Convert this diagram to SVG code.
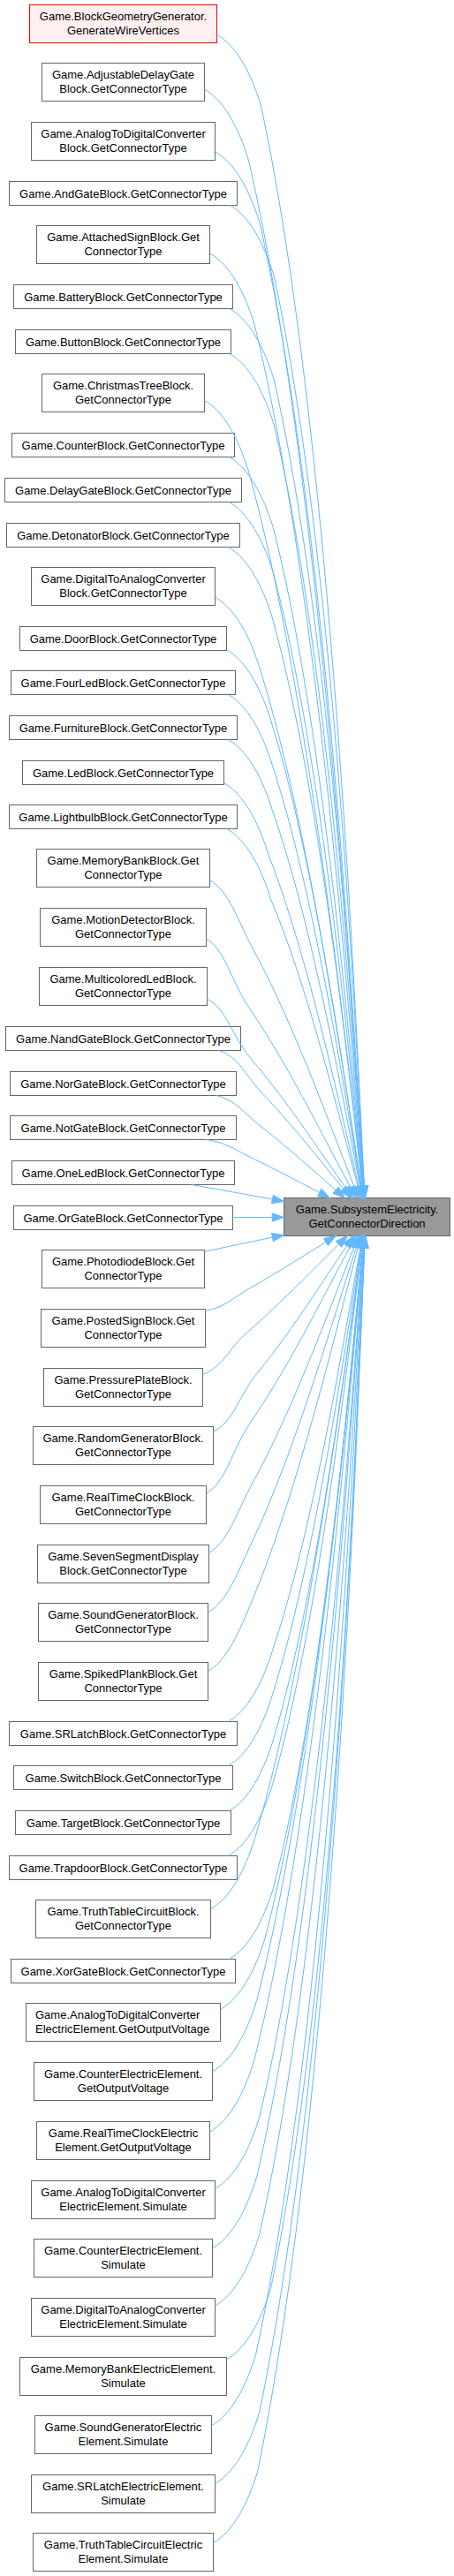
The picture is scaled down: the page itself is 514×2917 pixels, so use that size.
<svg xmlns="http://www.w3.org/2000/svg" width="514" height="2917" viewBox="0 0 514 2917">
<style>
.n rect{fill:#ffffff;stroke:#666666;stroke-width:1}
.n.trunc rect{fill:#fff0f0;stroke:#ff0000}
.n.target rect{fill:#999999;stroke:#666666}
text{font-family:"Liberation Sans",Arial,Helvetica,sans-serif;font-size:13px;fill:#000000;text-anchor:middle}
text.l{text-anchor:start}
#edges path{fill:none;stroke:#63b8ff;stroke-width:1;marker-end:url(#ah)}
</style>
<defs>
<marker id="ah" markerUnits="userSpaceOnUse" markerWidth="14" markerHeight="10" refX="13.3" refY="4.67" orient="auto" overflow="visible">
<path d="M0,0 L13.3,4.67 L0,9.34 Z" fill="#63b8ff" stroke="#63b8ff" stroke-width="1"/>
</marker>
</defs>
<rect x="0" y="0" width="514" height="2917" fill="#ffffff"/>
<g id="nodes">
<g id="node1" class="n trunc"><rect x="33.5" y="5.5" width="212" height="43"/><text x="139.5" y="23.3">Game.BlockGeometryGenerator.</text><text x="139.5" y="39.3">GenerateWireVertices</text></g>
<g id="node2" class="n"><rect x="47.5" y="71.5" width="184" height="43"/><text x="139.5" y="89.3">Game.AdjustableDelayGate</text><text x="139.5" y="105.3">Block.GetConnectorType</text></g>
<g id="node3" class="n"><rect x="35.5" y="138.5" width="208" height="43"/><text x="139.5" y="156.3">Game.AnalogToDigitalConverter</text><text x="139.5" y="172.3">Block.GetConnectorType</text></g>
<g id="node4" class="n"><rect x="10.5" y="205.5" width="258" height="27"/><text x="139.5" y="223.8">Game.AndGateBlock.GetConnectorType</text></g>
<g id="node5" class="n"><rect x="41.5" y="255.5" width="196" height="43"/><text x="139.5" y="273.3">Game.AttachedSignBlock.Get</text><text x="139.5" y="289.3">ConnectorType</text></g>
<g id="node6" class="n"><rect x="15.5" y="322.5" width="248" height="27"/><text x="139.5" y="340.8">Game.BatteryBlock.GetConnectorType</text></g>
<g id="node7" class="n"><rect x="17.5" y="373.5" width="244" height="27"/><text x="139.5" y="391.8">Game.ButtonBlock.GetConnectorType</text></g>
<g id="node8" class="n"><rect x="47.5" y="423.5" width="184" height="43"/><text x="139.5" y="441.3">Game.ChristmasTreeBlock.</text><text x="139.5" y="457.3">GetConnectorType</text></g>
<g id="node9" class="n"><rect x="13.5" y="490.5" width="252" height="27"/><text x="139.5" y="508.8">Game.CounterBlock.GetConnectorType</text></g>
<g id="node10" class="n"><rect x="5.5" y="541.5" width="268" height="27"/><text x="139.5" y="559.8">Game.DelayGateBlock.GetConnectorType</text></g>
<g id="node11" class="n"><rect x="7.5" y="592.5" width="264" height="27"/><text x="139.5" y="610.8">Game.DetonatorBlock.GetConnectorType</text></g>
<g id="node12" class="n"><rect x="35.5" y="642.5" width="208" height="43"/><text x="139.5" y="660.3">Game.DigitalToAnalogConverter</text><text x="139.5" y="676.3">Block.GetConnectorType</text></g>
<g id="node13" class="n"><rect x="22.5" y="709.5" width="234" height="27"/><text x="139.5" y="727.8">Game.DoorBlock.GetConnectorType</text></g>
<g id="node14" class="n"><rect x="12.5" y="759.5" width="254" height="27"/><text x="139.5" y="777.8">Game.FourLedBlock.GetConnectorType</text></g>
<g id="node15" class="n"><rect x="10.5" y="810.5" width="258" height="27"/><text x="139.5" y="828.8">Game.FurnitureBlock.GetConnectorType</text></g>
<g id="node16" class="n"><rect x="25.5" y="861.5" width="228" height="27"/><text x="139.5" y="879.8">Game.LedBlock.GetConnectorType</text></g>
<g id="node17" class="n"><rect x="10.5" y="911.5" width="258" height="27"/><text x="139.5" y="929.8">Game.LightbulbBlock.GetConnectorType</text></g>
<g id="node18" class="n"><rect x="41.5" y="961.5" width="196" height="43"/><text x="139.5" y="979.3">Game.MemoryBankBlock.Get</text><text x="139.5" y="995.3">ConnectorType</text></g>
<g id="node19" class="n"><rect x="45.5" y="1028.5" width="188" height="43"/><text x="139.5" y="1046.3">Game.MotionDetectorBlock.</text><text x="139.5" y="1062.3">GetConnectorType</text></g>
<g id="node20" class="n"><rect x="44.5" y="1095.5" width="190" height="43"/><text x="139.5" y="1113.3">Game.MulticoloredLedBlock.</text><text x="139.5" y="1129.3">GetConnectorType</text></g>
<g id="node21" class="n"><rect x="6.5" y="1162.5" width="266" height="27"/><text x="139.5" y="1180.8">Game.NandGateBlock.GetConnectorType</text></g>
<g id="node22" class="n"><rect x="11.5" y="1213.5" width="256" height="27"/><text x="139.5" y="1231.8">Game.NorGateBlock.GetConnectorType</text></g>
<g id="node23" class="n"><rect x="11.5" y="1263.5" width="256" height="27"/><text x="139.5" y="1281.8">Game.NotGateBlock.GetConnectorType</text></g>
<g id="node24" class="n"><rect x="13.5" y="1314.5" width="252" height="27"/><text x="139.5" y="1332.8">Game.OneLedBlock.GetConnectorType</text></g>
<g id="node25" class="n"><rect x="15.5" y="1365.5" width="248" height="27"/><text x="139.5" y="1383.8">Game.OrGateBlock.GetConnectorType</text></g>
<g id="node26" class="n"><rect x="47.5" y="1415.5" width="184" height="43"/><text x="139.5" y="1433.3">Game.PhotodiodeBlock.Get</text><text x="139.5" y="1449.3">ConnectorType</text></g>
<g id="node27" class="n"><rect x="46.5" y="1482.5" width="186" height="43"/><text x="139.5" y="1500.3">Game.PostedSignBlock.Get</text><text x="139.5" y="1516.3">ConnectorType</text></g>
<g id="node28" class="n"><rect x="49.5" y="1549.5" width="180" height="43"/><text x="139.5" y="1567.3">Game.PressurePlateBlock.</text><text x="139.5" y="1583.3">GetConnectorType</text></g>
<g id="node29" class="n"><rect x="37.5" y="1615.5" width="204" height="43"/><text x="139.5" y="1633.3">Game.RandomGeneratorBlock.</text><text x="139.5" y="1649.3">GetConnectorType</text></g>
<g id="node30" class="n"><rect x="45.5" y="1682.5" width="188" height="43"/><text x="139.5" y="1700.3">Game.RealTimeClockBlock.</text><text x="139.5" y="1716.3">GetConnectorType</text></g>
<g id="node31" class="n"><rect x="42.5" y="1749.5" width="194" height="43"/><text x="139.5" y="1767.3">Game.SevenSegmentDisplay</text><text x="139.5" y="1783.3">Block.GetConnectorType</text></g>
<g id="node32" class="n"><rect x="43.5" y="1815.5" width="192" height="43"/><text x="139.5" y="1833.3">Game.SoundGeneratorBlock.</text><text x="139.5" y="1849.3">GetConnectorType</text></g>
<g id="node33" class="n"><rect x="43.5" y="1882.5" width="192" height="43"/><text x="139.5" y="1900.3">Game.SpikedPlankBlock.Get</text><text x="139.5" y="1916.3">ConnectorType</text></g>
<g id="node34" class="n"><rect x="10.5" y="1949.5" width="258" height="27"/><text x="139.5" y="1967.8">Game.SRLatchBlock.GetConnectorType</text></g>
<g id="node35" class="n"><rect x="15.5" y="1999.5" width="248" height="27"/><text x="139.5" y="2017.8">Game.SwitchBlock.GetConnectorType</text></g>
<g id="node36" class="n"><rect x="17.5" y="2050.5" width="244" height="27"/><text x="139.5" y="2068.8">Game.TargetBlock.GetConnectorType</text></g>
<g id="node37" class="n"><rect x="10.5" y="2101.5" width="258" height="27"/><text x="139.5" y="2119.8">Game.TrapdoorBlock.GetConnectorType</text></g>
<g id="node38" class="n"><rect x="40.5" y="2151.5" width="198" height="43"/><text x="139.5" y="2169.3">Game.TruthTableCircuitBlock.</text><text x="139.5" y="2185.3">GetConnectorType</text></g>
<g id="node39" class="n"><rect x="12.5" y="2218.5" width="254" height="27"/><text x="139.5" y="2236.8">Game.XorGateBlock.GetConnectorType</text></g>
<g id="node40" class="n"><rect x="29.5" y="2268.5" width="220" height="43"/><text class="l" x="40" y="2286.3">Game.AnalogToDigitalConverter</text><text class="l" x="40" y="2302.3">ElectricElement.GetOutputVoltage</text></g>
<g id="node41" class="n"><rect x="38.5" y="2335.5" width="202" height="43"/><text x="139.5" y="2353.3">Game.CounterElectricElement.</text><text x="139.5" y="2369.3">GetOutputVoltage</text></g>
<g id="node42" class="n"><rect x="41.5" y="2402.5" width="196" height="43"/><text x="139.5" y="2420.3">Game.RealTimeClockElectric</text><text x="139.5" y="2436.3">Element.GetOutputVoltage</text></g>
<g id="node43" class="n"><rect x="35.5" y="2469.5" width="208" height="43"/><text x="139.5" y="2487.3">Game.AnalogToDigitalConverter</text><text x="139.5" y="2503.3">ElectricElement.Simulate</text></g>
<g id="node44" class="n"><rect x="38.5" y="2535.5" width="202" height="43"/><text x="139.5" y="2553.3">Game.CounterElectricElement.</text><text x="139.5" y="2569.3">Simulate</text></g>
<g id="node45" class="n"><rect x="35.5" y="2602.5" width="208" height="43"/><text x="139.5" y="2620.3">Game.DigitalToAnalogConverter</text><text x="139.5" y="2636.3">ElectricElement.Simulate</text></g>
<g id="node46" class="n"><rect x="22.5" y="2669.5" width="234" height="43"/><text x="139.5" y="2687.3">Game.MemoryBankElectricElement.</text><text x="139.5" y="2703.3">Simulate</text></g>
<g id="node47" class="n"><rect x="39.5" y="2735.5" width="200" height="43"/><text x="139.5" y="2753.3">Game.SoundGeneratorElectric</text><text x="139.5" y="2769.3">Element.Simulate</text></g>
<g id="node48" class="n"><rect x="35.5" y="2802.5" width="208" height="43"/><text x="139.5" y="2820.3">Game.SRLatchElectricElement.</text><text x="139.5" y="2836.3">Simulate</text></g>
<g id="node49" class="n"><rect x="37.5" y="2868.5" width="204" height="43"/><text x="139.5" y="2886.3">Game.TruthTableCircuitElectric</text><text x="139.5" y="2902.3">Element.Simulate</text></g>
<g id="target" class="n target"><rect x="321.5" y="1356.5" width="188" height="43"/><text x="415.5" y="1374.3">Game.SubsystemElectricity.</text><text x="415.5" y="1390.3">GetConnectorDirection</text></g>
</g>
<g id="edges">
<path d="M245.3,39 C267.3,51 284.3,83 295.3,119 C384.2,531.5 407.7,1296.5 413.4,1356.5"/>
<path d="M231.3,101 C253.3,113 270.3,145 281.3,181 C372.2,572.8 406.4,1296.5 413.1,1356.5"/>
<path d="M244,172.3 C266,184.3 283,216.3 294,252.3 C377.9,620.4 406.7,1296.5 413.2,1356.5"/>
<path d="M260,232 C282,244 299,276 310,312 C386.3,660.2 407.5,1296.5 413.4,1356.5"/>
<path d="M238,287.3 C260,299.3 277,331.3 288,367.3 C369.2,697 405.2,1296.5 412.8,1356.5"/>
<path d="M260,349.5 C282,361.5 299,393.5 310,429.5 C381.5,738.5 406.4,1296.5 413.1,1356.5"/>
<path d="M260,400.5 C282,412.5 299,444.5 310,480.5 C379.3,772.5 405.9,1296.5 413,1356.5"/>
<path d="M231.3,453.3 C253.3,465.3 270.3,497.3 281.3,533.3 C357.8,807.7 402.6,1296.5 412.1,1356.5"/>
<path d="M259.3,517.5 C281.3,529.5 298.3,561.5 309.3,597.5 C374.1,850.5 404.4,1296.5 412.6,1356.5"/>
<path d="M259.3,568.5 C281.3,580.5 298.3,612.5 309.3,648.5 C372,884.5 403.7,1296.5 412.4,1356.5"/>
<path d="M258.3,619.5 C280.3,631.5 297.3,663.5 308.3,699.5 C369.2,918.5 402.6,1296.5 412.1,1356.5"/>
<path d="M244,676.7 C266,688.7 283,720.7 294,756.7 C357.1,956.6 399.8,1297.6 411.3,1356.5"/>
<path d="M256.7,736 C278.7,748 295.7,780 306.7,816 C363.2,996.2 399.9,1297.6 411.3,1356.5"/>
<path d="M258.3,786.5 C280.3,798.5 297.3,830.5 308.3,866.5 C362.1,1029.8 398.7,1297.8 411,1356.5"/>
<path d="M258.3,837.5 C280.3,849.5 297.3,881.5 308.3,917.5 C360,1063.8 396.9,1298.1 410.5,1356.5"/>
<path d="M253.5,886.7 C275.5,898.7 292.5,930.7 303.5,966.7 C354.5,1096.6 393.8,1298.6 409.6,1356.5"/>
<path d="M256.7,938.5 C278.7,950.5 295.7,982.5 306.7,1018.5 C354.3,1131.2 391.6,1299.1 409,1356.5"/>
<path d="M237.5,996.7 C259.5,1008.7 269.5,1043.6 287.5,1076.7 C338.3,1170 382.9,1301.3 406.4,1356.5"/>
<path d="M233,1062.7 C255,1074.7 261.7,1111.6 283,1142.7 C331.7,1214 374,1304.2 403.4,1356.5"/>
<path d="M234,1131 C256.5,1141.2 262.1,1173.1 284,1198.7 C328.9,1251.3 368.6,1314.1 399.7,1356.5"/>
<path d="M248.3,1189.5 C270.8,1197 278.6,1219.3 298.3,1239.6 C336,1278.6 372.1,1326.7 397.3,1356.5"/>
<path d="M245,1240.5 C267.5,1245.7 275.7,1260.4 295,1275.3 C330,1302.4 369.7,1338.9 390.3,1356.5"/>
<path d="M233.3,1290.5 C255.8,1293.5 263.9,1300.9 283.3,1310.3 C315.2,1325.7 359.8,1349.5 373.5,1356.5"/>
<path d="M216.7,1341.5 C251,1347.5 287,1354 321.5,1360.5"/>
<path d="M263.5,1378.5 L321.5,1378.5"/>
<path d="M231.5,1417.3 C261,1411 291,1404.7 321.5,1398.5"/>
<path d="M232.5,1484.3 C255,1480.5 263,1469.9 282.5,1458.9 C317.5,1439.1 363.3,1409.8 380.2,1399.5"/>
<path d="M229.5,1556 C252,1549 258.8,1526.9 279.5,1509 C321.8,1472.5 366.9,1424.8 393.2,1399.5"/>
<path d="M241.5,1621 C264,1611 270.4,1580.2 291.5,1554.5 C334,1502.8 370.7,1441.8 400.4,1399.5"/>
<path d="M233.5,1691 C256,1679 262.2,1642.1 283.5,1611 C331.9,1540.5 373.7,1451.7 403.3,1399.5"/>
<path d="M236.5,1758.3 C258.5,1746.3 268.3,1711.3 286.5,1678.3 C337.6,1585.4 382.6,1454.6 406.3,1399.5"/>
<path d="M235.5,1825.7 C257.5,1813.7 269.4,1779.8 285.5,1745.7 C340.1,1630.3 387.9,1456.1 407.9,1399.5"/>
<path d="M235.5,1892.3 C257.5,1880.3 270.9,1847.1 285.5,1812.3 C343.2,1674.7 391.9,1457 409.1,1399.5"/>
<path d="M258.3,1949.5 C280.3,1937.5 297.3,1905.5 308.3,1869.5 C361.3,1712.8 398,1458.1 410.8,1399.5"/>
<path d="M258.3,1999.5 C280.3,1987.5 297.3,1955.5 308.3,1919.5 C363.4,1746.2 399.5,1458.4 411.2,1399.5"/>
<path d="M259.3,2050.5 C281.3,2038.5 298.3,2006.5 309.3,1970.5 C366.2,1780.2 401,1458.6 411.6,1399.5"/>
<path d="M258.3,2101.5 C280.3,2089.5 297.3,2057.5 308.3,2021.5 C367.7,1814.2 401.9,1458.7 411.9,1399.5"/>
<path d="M238.5,2161.7 C260.5,2149.7 277.5,2117.7 288.5,2081.7 C356.8,1854.3 401,1458.6 411.6,1399.5"/>
<path d="M259.3,2218.5 C281.3,2206.5 298.3,2174.5 309.3,2138.5 C373.3,1892.2 404.1,1459.5 412.5,1399.5"/>
<path d="M250,2275 C272,2263 289,2231 300,2195 C369.3,1929.8 404,1459.5 412.5,1399.5"/>
<path d="M240.5,2345.7 C262.5,2333.7 279.5,2301.7 290.5,2265.7 C365.8,1977 404,1459.5 412.5,1399.5"/>
<path d="M237.5,2414 C259.5,2402 276.5,2370 287.5,2334 C366.6,2022.5 404.6,1459.5 412.6,1399.5"/>
<path d="M243.5,2478.3 C265.5,2466.3 282.5,2434.3 293.5,2398.3 C373.3,2065.4 405.7,1459.5 412.9,1399.5"/>
<path d="M240.5,2545.7 C262.5,2533.7 279.5,2501.7 290.5,2465.7 C373.9,2110.3 406.1,1459.5 413,1399.5"/>
<path d="M243.5,2611 C265.5,2599 282.5,2567 293.5,2531 C378.7,2153.8 406.9,1459.5 413.2,1399.5"/>
<path d="M256.5,2671.7 C278.5,2659.7 295.5,2627.7 306.5,2591.7 C389.9,2194.3 408.2,1459.5 413.6,1399.5"/>
<path d="M239.5,2746.7 C261.5,2734.7 278.5,2702.7 289.5,2666.7 C381.5,2244.3 407.5,1459.5 413.4,1399.5"/>
<path d="M243.5,2812.3 C265.5,2800.3 282.5,2768.3 293.5,2732.3 C386.8,2288 408.2,1459.5 413.6,1399.5"/>
<path d="M241.5,2879.3 C263.5,2867.3 280.5,2835.3 291.5,2799.3 C388.2,2332.7 408.4,1459.5 413.6,1399.5"/>
</g>
</svg>
